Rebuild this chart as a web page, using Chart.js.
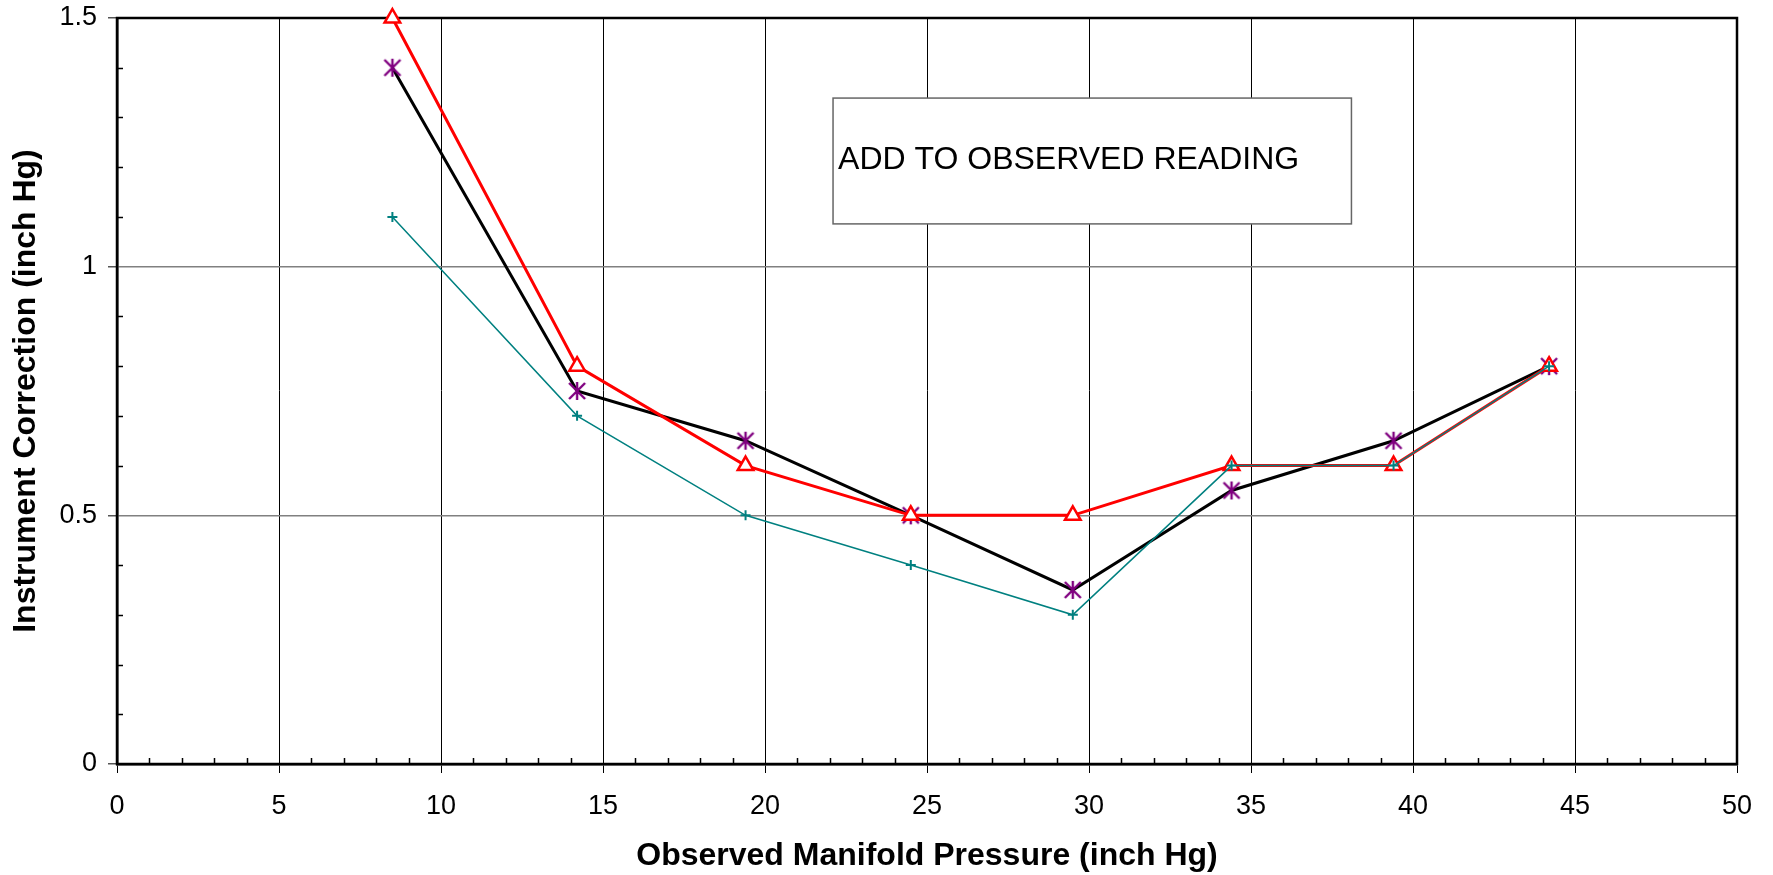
<!DOCTYPE html>
<html>
<head>
<meta charset="utf-8">
<script src="https://cdn.jsdelivr.net/npm/chart.js@4.4.1/dist/chart.umd.min.js"></script>
<style>
  html, body { margin: 0; padding: 0; background: #fff; }
  #wrap { width: 1773px; height: 875px; }
</style>
</head>
<body>
<div id="wrap"><canvas id="chart"></canvas></div>
<script>
// observed manifold pressure (inch Hg)
const pressure = [8.5, 14.2, 19.4, 24.5, 29.5, 34.4, 39.4, 44.2];
// instrument correction (inch Hg), one list per curve
const corrRed = [1.5, 0.8, 0.6, 0.5, 0.5, 0.6, 0.6, 0.8];
const corrBlack = [1.4, 0.75, 0.65, 0.5, 0.35, 0.55, 0.65, 0.8];
const corrTeal = [1.1, 0.7, 0.5, 0.4, 0.3, 0.6, 0.6, 0.8];

const xTitle = 'Observed Manifold Pressure (inch Hg)';
const yTitle = 'Instrument Correction (inch Hg)';
const noteText = 'ADD TO OBSERVED READING';

const FONT = '"Liberation Sans", Arial, sans-serif';

// note box corners, in axis units
const noteBox = { x0: 22.1, x1: 38.1, y0: 1.339, y1: 1.086, textY: 1.196 };

function toPoints(ys) {
  return pressure.map((p, i) => ({ x: p, y: ys[i] }));
}

// excel style star: an X with a vertical bar
function starMarker(size, color) {
  const c = document.createElement('canvas');
  c.width = c.height = size + 4;
  const g = c.getContext('2d');
  const m = c.width / 2, h = size / 2;
  g.strokeStyle = color;
  g.lineWidth = 2.4;
  g.beginPath();
  g.moveTo(m - h, m - h); g.lineTo(m + h, m + h);
  g.moveTo(m + h, m - h); g.lineTo(m - h, m + h);
  g.moveTo(m, m - h - 1); g.lineTo(m, m + h + 1);
  g.stroke();
  return c;
}

const frameAndTicks = {
  id: 'frameAndTicks',
  beforeDatasetsDraw(chart) {
    const { ctx, chartArea: a, scales: { x, y } } = chart;
    ctx.save();
    // minor ticks, pointing inward
    ctx.strokeStyle = '#000';
    ctx.lineWidth = 1.5;
    ctx.beginPath();
    for (let v = 1; v < 50; v++) {
      if (v % 5 === 0) continue;
      const px = Math.round(x.getPixelForValue(v)) + 0.5;
      ctx.moveTo(px, a.bottom);
      ctx.lineTo(px, a.bottom - 6);
    }
    for (let k = 1; k < 15; k++) {
      if (k % 5 === 0) continue;
      const py = Math.round(y.getPixelForValue(k / 10)) + 0.5;
      ctx.moveTo(a.left, py);
      ctx.lineTo(a.left + 6, py);
    }
    ctx.stroke();

    // plot frame
    ctx.lineWidth = 2.5;
    ctx.strokeRect(a.left, a.top, a.right - a.left, a.bottom - a.top);

    // text box
    const bx0 = x.getPixelForValue(noteBox.x0), bx1 = x.getPixelForValue(noteBox.x1);
    const by0 = y.getPixelForValue(noteBox.y0), by1 = y.getPixelForValue(noteBox.y1);
    ctx.fillStyle = '#fff';
    ctx.fillRect(bx0, by0, bx1 - bx0, by1 - by0);
    ctx.strokeStyle = '#666';
    ctx.lineWidth = 1.5;
    ctx.strokeRect(bx0, by0, bx1 - bx0, by1 - by0);
    ctx.fillStyle = '#000';
    ctx.font = '32px ' + FONT;
    ctx.textAlign = 'left';
    ctx.textBaseline = 'alphabetic';
    ctx.fillText(noteText, bx0 + 5, y.getPixelForValue(noteBox.textY));
    ctx.restore();
  }
};

const ctx = document.getElementById('chart').getContext('2d');

new Chart(ctx, {
  type: 'line',
  data: {
    datasets: [
      {
        label: 'teal',
        data: toPoints(corrTeal),
        borderColor: '#008080',
        borderWidth: 1.5,
        pointStyle: 'cross',
        pointRadius: 5,
        pointBorderColor: '#008080',
        pointBorderWidth: 2,
        clip: false
      },
      {
        label: 'red',
        data: toPoints(corrRed),
        borderColor: '#ff0000',
        borderWidth: 3,
        pointStyle: 'triangle',
        pointRadius: 9,
        pointBackgroundColor: '#fff',
        pointBorderColor: '#ff0000',
        pointBorderWidth: 2.5,
        clip: false
      },
      {
        label: 'black',
        data: toPoints(corrBlack),
        borderColor: '#000',
        borderWidth: 3,
        pointStyle: starMarker(16, '#800080'),
        clip: false
      }
    ]
  },
  options: {
    responsive: true,
    maintainAspectRatio: false,
    devicePixelRatio: 1,
    animation: false,
    layout: { padding: { left: 0, top: 18, right: 36, bottom: 0 } },
    plugins: {
      legend: { display: false },
      tooltip: { enabled: false }
    },
    scales: {
      x: {
        type: 'linear',
        min: 0,
        max: 50,
        afterFit: s => { s.height = 111; },
        ticks: {
          stepSize: 5,
          padding: 17,
          color: '#000',
          font: { family: FONT, size: 27 }
        },
        grid: { color: '#000', lineWidth: 1, tickLength: 9, tickColor: '#000' },
        border: { color: '#000', width: 2.5 },
        title: {
          display: true,
          text: xTitle,
          color: '#000',
          padding: { top: 0, bottom: 0 },
          font: { family: FONT, size: 32, weight: 'bold' }
        }
      },
      y: {
        min: 0,
        max: 1.5,
        afterFit: s => { s.width = 117; s.paddingTop = 0; s.paddingBottom = 0; },
        ticks: {
          stepSize: 0.5,
          padding: 11,
          color: '#000',
          font: { family: FONT, size: 27 },
          callback: v => String(Math.round(v * 10) / 10)
        },
        grid: { color: '#808080', lineWidth: 1.5, tickLength: 9, tickColor: '#555' },
        border: { color: '#000', width: 2.5 },
        title: {
          display: true,
          text: yTitle,
          color: '#000',
          padding: { top: 7, bottom: 0 },
          font: { family: FONT, size: 32, weight: 'bold' }
        }
      }
    }
  },
  plugins: [frameAndTicks]
});
</script>
</body>
</html>
